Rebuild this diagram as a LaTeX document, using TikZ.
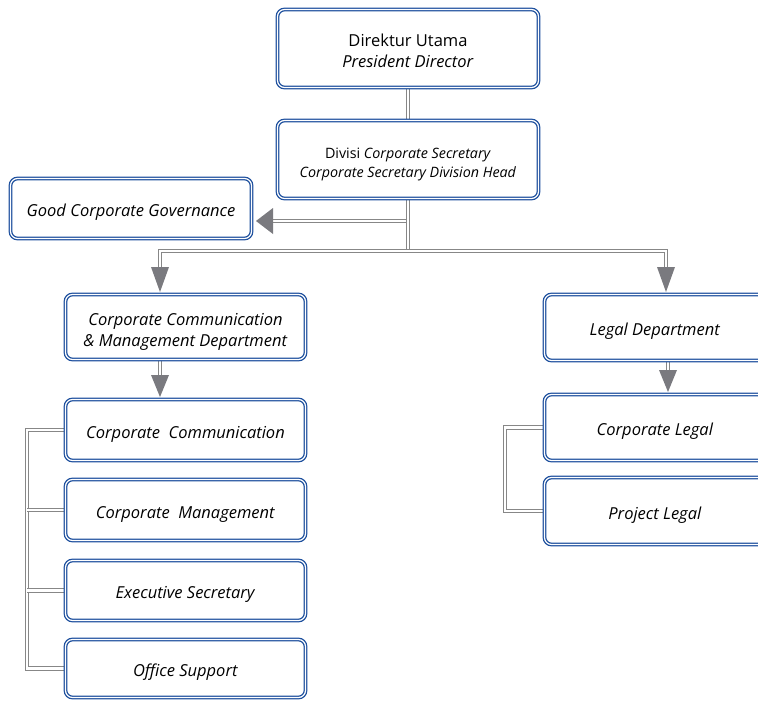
\documentclass[tikz,border=0pt]{standalone}
\usepackage{fontspec}
\setmainfont{Open Sans}
\usetikzlibrary{backgrounds,calc}
\definecolor{boxblue}{RGB}{30,80,158}
\definecolor{lngray}{RGB}{135,135,135}
\definecolor{tipgray}{RGB}{122,122,127}
\newcommand{\liftline}[1]{\rule{0pt}{#1}}
\begin{document}
\begin{tikzpicture}[x=1pt,y=-1pt,
  box/.style={draw=boxblue, double=white, line width=1.3pt, double distance=1.2pt,
    rounded corners=7pt, fill=white, align=center, inner sep=0pt, text depth=0pt,
    execute at begin node={\rule{0pt}{16.5pt}},
    font=\fontsize{16.5}{21}\selectfont},
  smallbox/.style={box, font=\fontsize{14.3}{19}\selectfont},
  conn/.style={draw=lngray, double=white, line width=1.1pt, double distance=2.2pt},
  tiphead/.style={fill=tipgray, draw=none}]
\useasboundingbox (0,0) rectangle (758,702);
\clip (0,0) rectangle (758,702);

\node[box, minimum width=261pt, minimum height=78pt] (top) at (408,48.5)
  {\liftline{17pt}Direktur Utama\\\textit{President Director}};
\node[smallbox, minimum width=261pt, minimum height=78pt] (div) at (408,159.5)
  {\liftline{16pt}Divisi \textit{Corporate Secretary}\\\textit{Corporate Secretary Division Head}};
\node[box, minimum width=241pt, minimum height=60pt] (gcg) at (131,208.5)
  {\textit{Good Corporate Governance}};
\node[box, minimum width=240pt, minimum height=65pt] (ccm) at (185.5,327)
  {\liftline{17pt}\textit{Corporate Communication}\\\textit{\& Management Department}};
\node[box, minimum width=221pt, minimum height=66pt] (legal) at (655,327.5)
  {\textit{Legal Department}};
\node[box, minimum width=240pt, minimum height=61pt] (cc) at (185.5,430)
  {\textit{Corporate~ Communication}};
\node[box, minimum width=240pt, minimum height=61pt] (cm) at (185.5,510)
  {\textit{Corporate~ Management}};
\node[box, minimum width=240pt, minimum height=60pt] (es) at (185.5,590.5)
  {\textit{Executive Secretary}};
\node[box, minimum width=240pt, minimum height=58pt] (os) at (185.5,668.5)
  {\textit{Office Support}};
\node[box, minimum width=221pt, minimum height=66pt] (cl) at (655,427.5)
  {\textit{Corporate Legal}};
\node[box, minimum width=221pt, minimum height=67pt] (pl) at (655,511)
  {\textit{Project Legal}};

\coordinate (branch) at (408,221);
\coordinate (gcgbase) at (273,221);
\coordinate (gcgtip) at (256,221);
\coordinate (busmid) at (408,251);
\coordinate (lbase) at (160,267);
\coordinate (ltip) at (160,292);
\coordinate (rbase) at (666,267);
\coordinate (rtip) at (666,292);
\coordinate (ccbase) at (160,375);
\coordinate (cctip) at (160,397);
\coordinate (clbase) at (668,370);
\coordinate (cltip) at (668,392);

\begin{scope}[on background layer]
\draw[conn] (top.south) -- (div.north);
\draw[conn] (branch) -- (gcgbase);
\draw[conn] (div.south) -- (busmid);
\draw[conn] (lbase) |- (busmid) -| (rbase);
\draw[conn] (ccm.south -| ccbase) -- (ccbase);
\draw[conn] (legal.south -| clbase) -- (clbase);
\draw[conn] (cc.west) -- (27,430) -- (27,668.5) -- (os.west);
\draw[conn] (27,510) -- (cm.west);
\draw[conn] (27,590.5) -- (es.west);
\draw[conn] (cl.west) -- (505,427.5) -- (505,511) -- (pl.west);
\end{scope}

\fill[tiphead] ($(gcgbase)+(0,-13)$) -- (gcgtip) -- ($(gcgbase)+(0,13)$) -- cycle;
\fill[tiphead] ($(lbase)+(-9,0)$) -- (ltip) -- ($(lbase)+(9,0)$) -- cycle;
\fill[tiphead] ($(rbase)+(-9,0)$) -- (rtip) -- ($(rbase)+(9,0)$) -- cycle;
\fill[tiphead] ($(ccbase)+(-9,0)$) -- (cctip) -- ($(ccbase)+(9,0)$) -- cycle;
\fill[tiphead] ($(clbase)+(-9,0)$) -- (cltip) -- ($(clbase)+(9,0)$) -- cycle;
\end{tikzpicture}
\end{document}
